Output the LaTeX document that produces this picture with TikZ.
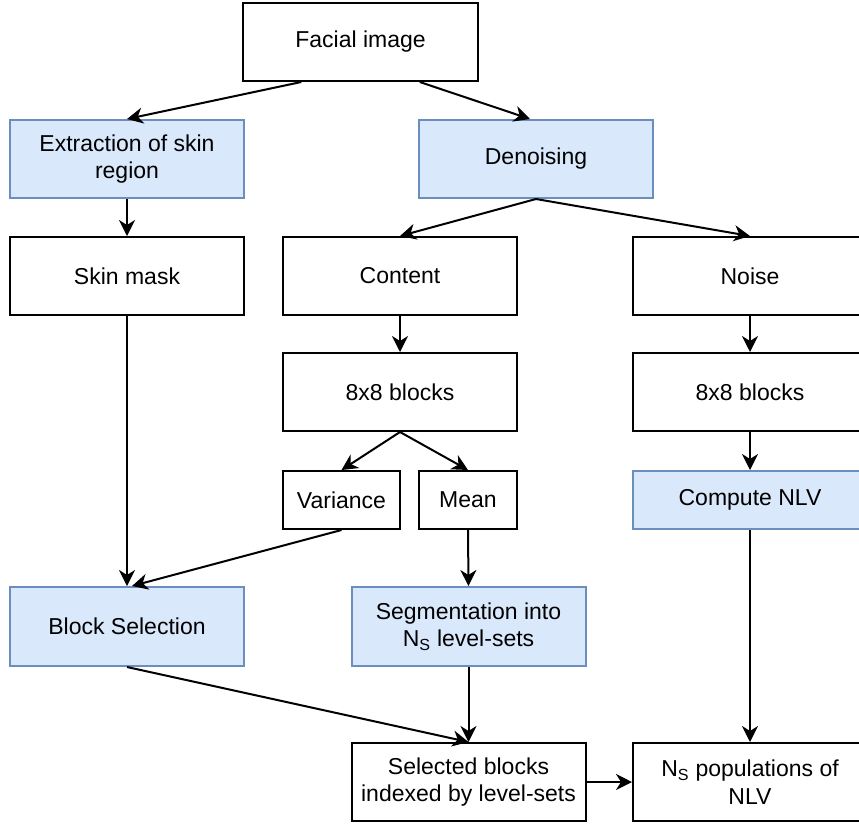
\documentclass[tikz,border=0pt]{standalone}
\usepackage{fontspec}
\setmainfont{Liberation Sans}
\usetikzlibrary{arrows.meta,calc}

\definecolor{procfill}{HTML}{DAE8FC}
\definecolor{procline}{HTML}{6C8EBF}

\tikzset{
  box/.style={draw=black, line width=2pt, fill=white, rectangle, inner sep=0pt,
    align=center, minimum width=234pt, minimum height=78pt,
    font=\fontsize{23}{27.5}\selectfont},
  proc/.style={box, draw=procline, fill=procfill},
  flow/.style={line width=2pt, -{Stealth[length=16pt,width=16pt,inset=5pt]}}
}

\begin{document}
\begin{tikzpicture}[x=1pt,y=-1pt]
\useasboundingbox (0,0) rectangle (859,823);
\clip (0,0) rectangle (859,823);

% input and first split
\node[box, minimum width=235pt] (face) at (360.5,42) {Facial image};
\node[proc] (extr) at (127,159) {Extraction of skin\\region};
\node[proc] (den)  at (536,159) {Denoising};

% second row
\node[box] (skin)  at (127,276) {Skin mask};
\node[box] (cont)  at (400,276) {Content};
\node[box] (noise) at (750,276) {Noise};

% block decomposition
\node[box] (blkc) at (400,392) {8x8 blocks};
\node[box] (blkn) at (750,392) {8x8 blocks};

% block statistics
\node[box, minimum width=117pt, minimum height=58pt] (var)  at (341.5,500) {Variance};
\node[box, minimum width=98pt,  minimum height=58pt] (mean) at (468,500) {Mean};
\node[proc, minimum height=58pt] (nlv) at (750,500) {Compute NLV};

% selection and segmentation
\node[proc, minimum height=79pt] (bsel) at (127,626.5) {Block Selection};
\node[proc, minimum height=79pt] (seg)  at (468.5,626.5) {Segmentation into\\N\textsubscript{S} level-sets};

% outputs
\node[box] (sel) at (468.5,782) {Selected blocks\\indexed by level-sets};
\node[box] (pop) at (750,782) {N\textsubscript{S} populations of\\NLV};

% connectors
\coordinate (faceL) at ($(face.south west)!0.25!(face.south east)$);
\coordinate (faceR) at ($(face.south west)!0.75!(face.south east)$);
\draw[flow] (faceL) -- (extr.north);
\draw[flow] (faceR) -- ([xshift=-6pt]den.north);
\draw[flow] (extr.south) -- (skin.north);
\draw[flow] (den.south) -- (cont.north);
\draw[flow] (den.south) -- (noise.north);
\draw[flow] (cont.south) -- (blkc.north);
\draw[flow] (noise.south) -- (blkn.north);
\draw[flow] (blkc.south) -- (var.north);
\draw[flow] (blkc.south) -- (mean.north);
\draw[flow] (blkn.south) -- (nlv.north);
\draw[flow] (skin.south) -- (bsel.north);
\draw[flow] (var.south) -- ([xshift=5pt]bsel.north);
\draw[flow] (mean.south) -- (seg.north);
\draw[flow] (seg.south) -- (sel.north);
\draw[flow] (bsel.south) -- (sel.north);
\draw[flow] (sel.east) -- (pop.west);
\draw[flow] (nlv.south) -- (pop.north);
\end{tikzpicture}
\end{document}
